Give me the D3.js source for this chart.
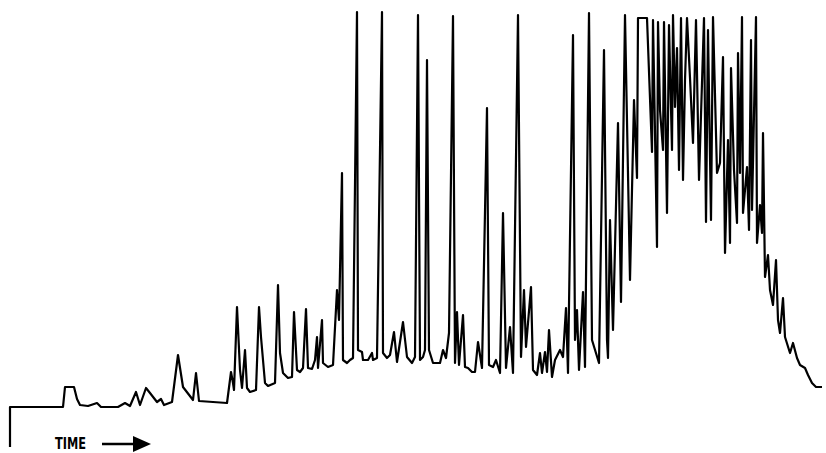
<!DOCTYPE html>
<html>
<head>
<meta charset="utf-8">
<script src="https://cdn.jsdelivr.net/npm/d3@7"></script>
<style>
  body { margin: 0; background: #fff; }
  .trace { fill: none; stroke: #000; stroke-width: 2.2; stroke-linejoin: round; }
  .time_label { font-family: "Liberation Sans Narrow", "DejaVu Sans Condensed", sans-serif; font-weight: bold; font-size: 15px; }
</style>
</head>
<body>
<div id="chart"></div>
<script>
// retention time (arbitrary units) and detector response
const times = [
  0, 0, 53, 55, 64, 67, 70, 78, 87, 91, 108, 115, 120, 126, 130, 136, 140, 147, 151, 154,
  162, 168, 173, 183, 186, 189, 217, 221, 223, 224, 227, 230, 232, 235, 237, 240, 246, 249,
  251, 255, 258, 265, 268, 270, 273, 278, 282, 284, 287, 290, 293, 296, 298, 302, 305, 307,
  308, 312, 313, 318, 323, 327, 329, 332, 333, 337, 340, 343, 347, 348, 352, 353, 358, 362,
  363, 367, 372, 373, 377, 380, 384, 387, 393, 397, 402, 405, 408, 410, 413, 415, 417, 419,
  423, 430, 433, 436, 439, 443, 445, 447, 449, 453, 455, 458, 462, 465, 468, 472, 477, 479,
  483, 486, 490, 493, 496, 500, 503, 508, 511, 514, 516, 521, 523, 527, 530, 532, 535, 537,
  539, 542, 545, 550, 553, 556, 558, 563, 565, 567, 569, 573, 575, 579, 582, 589, 594, 597,
  598, 600, 603, 608, 611, 615, 620, 624, 627, 628, 637, 642, 643, 647, 648, 650, 653, 654,
  657, 659, 662, 663, 665, 667, 669, 671, 673, 675, 677, 680, 683, 686, 689, 694, 696, 698,
  701, 703, 707, 710, 713, 715, 718, 720, 721, 724, 727, 728, 730, 732, 733, 737, 739, 741,
  742, 746, 747, 750, 752, 753, 755, 758, 760, 763, 766, 768, 770, 773, 775, 780, 783, 787,
  790, 795, 798, 802, 806, 812
];
const response = [
  0, 40, 40, 60, 60, 48, 42, 41, 44, 40, 40, 44, 41, 55, 42, 59, 54, 45, 48, 42,
  45, 92, 60, 47, 74, 46, 44, 75, 64, 57, 140, 77, 59, 97, 59, 55, 57, 140,
  110, 64, 61, 64, 162, 94, 74, 69, 70, 135, 77, 75, 79, 138, 79, 78, 87, 110,
  79, 127, 84, 80, 82, 157, 127, 274, 87, 84, 87, 89, 435, 97, 95, 87, 87, 94,
  87, 89, 435, 94, 89, 92, 115, 85, 125, 90, 84, 90, 432, 87, 90, 97, 387, 97,
  84, 84, 97, 89, 114, 431, 84, 135, 82, 132, 80, 79, 75, 75, 105, 79, 339, 82,
  80, 87, 74, 234, 79, 120, 74, 432, 90, 157, 100, 160, 77, 72, 94, 74, 95, 75,
  117, 70, 87, 97, 90, 139, 74, 412, 107, 137, 77, 155, 80, 434, 107, 84, 397, 107,
  89, 227, 117, 324, 145, 432, 167, 347, 269, 429, 429, 295, 427, 200, 425, 337, 297, 425,
  234, 422, 297, 432, 340, 399, 277, 429, 267, 367, 429, 369, 304, 427, 267, 429, 225, 417,
  227, 430, 274, 284, 390, 194, 307, 204, 379, 277, 224, 394, 274, 430, 234, 280, 217, 407,
  237, 430, 204, 242, 214, 314, 170, 192, 157, 142, 187, 127, 114, 149, 110, 94, 104, 89,
  82, 79, 72, 64, 60, 60
];
const axisLabel = 'TIME';

const width = 826, height = 453;

const svg = d3.select('#chart')
    .append('svg')
    .attr('width', width)
    .attr('height', height);

const x = d3.scaleLinear().domain([0, 812]).range([10, 822]);
const y = d3.scaleLinear().domain([0, 435]).range([447, 12]);

const points = times.map((t, i) => [t, response[i]]);

const lineGen = d3.line()
    .x(d => x(d[0]))
    .y(d => y(d[1]));

svg.append('path')
    .datum(points)
    .classed('trace', true)
    .attr('d', lineGen);

// time label with arrow
svg.append('text')
    .classed('time_label', true)
    .attr('x', 55)
    .attr('y', 449)
    .attr('textLength', 31)
    .attr('lengthAdjust', 'spacingAndGlyphs')
    .text(axisLabel);

svg.append('line')
    .attr('x1', 102).attr('y1', 444)
    .attr('x2', 135).attr('y2', 444)
    .attr('stroke', '#000')
    .attr('stroke-width', 2.5);

svg.append('path')
    .attr('d', 'M133,436 L151,444 L133,452 Z')
    .attr('fill', '#000');
</script>
</body>
</html>
